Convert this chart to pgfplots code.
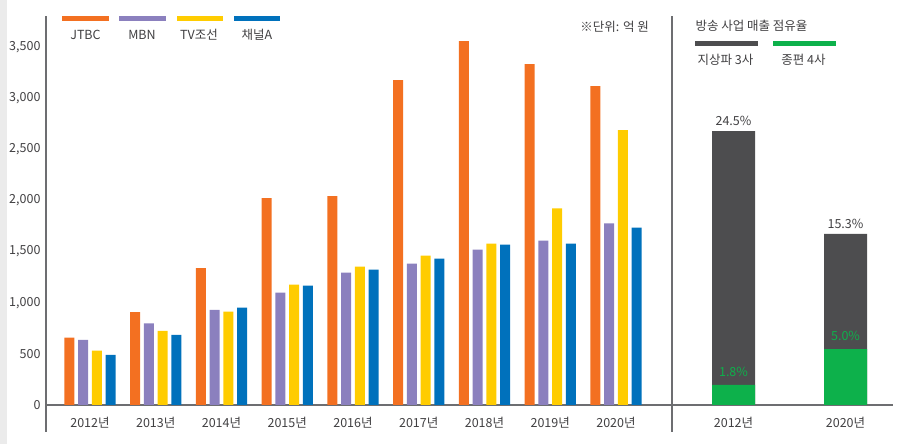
\documentclass[border=0pt]{standalone}
\usepackage{fontspec}
\setmainfont{Noto Sans CJK KR}
\usepackage{pgfplots}
\pgfplotsset{compat=1.18}
\definecolor{cJ}{HTML}{F37021}
\definecolor{cM}{HTML}{8B80BE}
\definecolor{cT}{HTML}{FFCC00}
\definecolor{cA}{HTML}{0071BC}
\definecolor{cD}{HTML}{4D4D4F}
\definecolor{cG}{HTML}{0DB14B}
\definecolor{txt}{HTML}{414042}
\definecolor{axg}{HTML}{6D6E71}
\newcommand{\fs}{\fontsize{12.5}{14}\selectfont}
\begin{document}
\begin{tikzpicture}
\useasboundingbox (0,0) rectangle (901pt,444pt);
\fill[black!8] (0,0) rectangle (7pt,444pt);
\begin{axis}[at={(46pt,12pt)}, anchor=south west, scale only axis,
  width=626pt, height=416pt,
  xmin=-0.669, xmax=8.852, ymin=-264, ymax=3803,
  axis x line=middle, axis y line=left,
  axis line style={-, draw=axg, line width=1.2pt},
  ybar=3.8pt, bar width=10pt,
  xtick={0,...,8},
  xticklabels={2012년,2013년,2014년,2015년,2016년,2017년,2018년,2019년,2020년},
  ytick={0,500,...,3500},
  major tick length=0pt,
  tick label style={font=\fs, text=txt},
  /pgf/number format/assume math mode=true,
  /pgf/number format/1000 sep={,},
  xticklabel style={yshift=-9pt},
  yticklabel style={xshift=-2pt},
  hide obscured y ticks=false,
  clip=false]
\addplot[fill=cJ, draw=none] coordinates {(0,658) (1,909) (2,1339) (3,2023) (4,2043) (5,3177) (6,3558) (7,3333) (8,3118)};
\addplot[fill=cM, draw=none] coordinates {(0,637) (1,797) (2,931) (3,1098) (4,1294) (5,1382) (6,1520) (7,1608) (8,1775)};
\addplot[fill=cT, draw=none] coordinates {(0,532) (1,725) (2,912) (3,1176) (4,1353) (5,1461) (6,1578) (7,1922) (8,2686)};
\addplot[fill=cA, draw=none] coordinates {(0,490) (1,686) (2,951) (3,1167) (4,1324) (5,1431) (6,1569) (7,1578) (8,1735)};
\end{axis}
\begin{axis}[at={(672pt,12pt)}, anchor=south west, scale only axis,
  width=221pt, height=416pt,
  xmin=-0.549, xmax=1.424, ymin=-2.415, ymax=34.79,
  axis x line=middle, axis y line=left,
  axis line style={-, draw=axg, line width=1.2pt},
  ybar, bar width=43pt,
  xtick={0,1}, xticklabels={2012년,2020년},
  ytick=\empty,
  major tick length=0pt,
  tick label style={font=\fs, text=txt},
  /pgf/number format/assume math mode=true,
  xticklabel style={yshift=-9pt},
  clip=false]
\addplot[fill=cD, draw=none, bar shift=0pt,
  nodes near coords={\pgfmathprintnumber[fixed,zerofill,precision=1]{\pgfplotspointmeta}\%},
  every node near coord/.append style={font=\fs, text=txt, anchor=center, yshift=10pt}]
  coordinates {(0,24.5) (1,15.3)};
\addplot[fill=cG, draw=none, bar shift=0pt,
  nodes near coords={\pgfmathprintnumber[fixed,zerofill,precision=1]{\pgfplotspointmeta}\%},
  every node near coord/.append style={font=\fs, text=cG, anchor=center, yshift=13pt}]
  coordinates {(0,1.8) (1,5.0)};
\end{axis}
% legends
\fill[cJ] (62pt,423pt) rectangle (109pt,428pt);
\fill[cM] (119pt,423pt) rectangle (166pt,428pt);
\fill[cT] (177pt,423pt) rectangle (223pt,428pt);
\fill[cA] (234pt,423pt) rectangle (280pt,428pt);
\node[font=\fs, text=txt] at (85.5pt,409pt) {JTBC};
\node[font=\fs, text=txt] at (142pt,409pt) {MBN};
\node[font=\fs, text=txt] at (199pt,409pt) {TV조선};
\node[font=\fs, text=txt] at (257pt,409pt) {채널A};
\node[font=\fs, text=txt, anchor=east, inner sep=0pt] at (649pt,417.3pt) {※단위: 억 원};
\node[font=\fs, text=txt] at (751.5pt,418pt) {방송 사업 매출 점유율};
\fill[cD] (695pt,398.3pt) rectangle (757.7pt,403pt);
\fill[cG] (772.7pt,398.3pt) rectangle (836pt,403pt);
\node[font=\fs, text=txt] at (725.5pt,384pt) {지상파 3사};
\node[font=\fs, text=txt] at (803.5pt,384pt) {종편 4사};
\end{tikzpicture}
\end{document}
